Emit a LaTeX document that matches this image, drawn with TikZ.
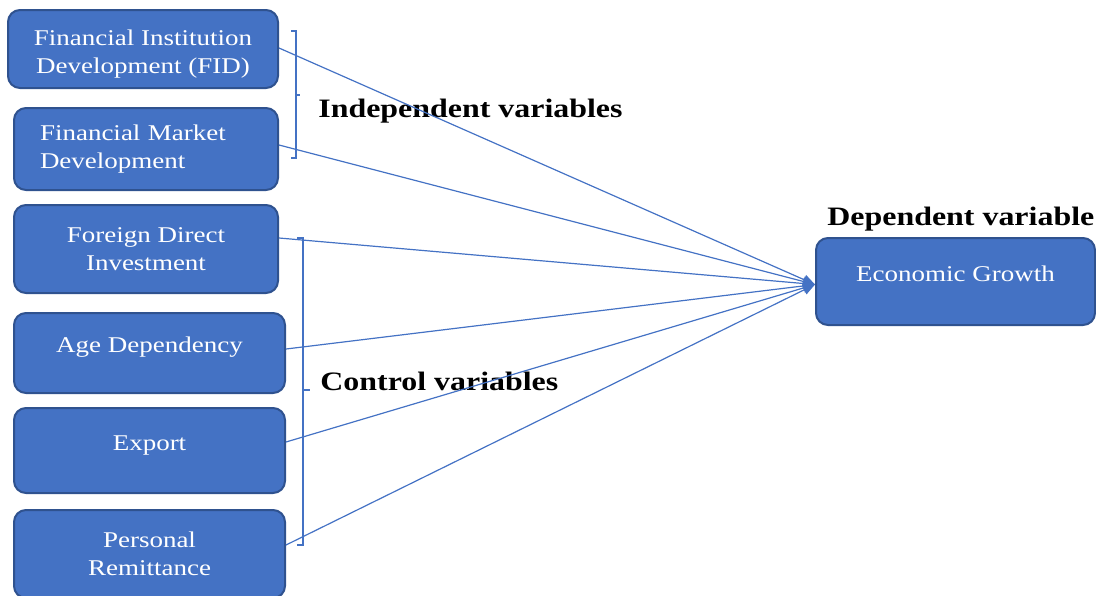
\documentclass[tikz,border=0pt]{standalone}
\usepackage{fontspec}
\setmainfont{Liberation Serif}[FakeStretch=1.2]
\usetikzlibrary{arrows.meta,calc}
\definecolor{boxblue}{HTML}{4472C4}
\definecolor{boxline}{HTML}{2F528F}

\begin{document}
\begin{tikzpicture}[x=0.5pt, y=-0.5pt]
  \tikzstyle{box} = [rectangle, draw=boxline, line width=1pt, fill=boxblue, rounded corners=6pt,
                                    text=white, align=center, inner sep=0pt,
                                    font=\fontsize{11.25}{14}\selectfont]
  \tikzstyle{raised} = [text height=8pt, text depth=8.5pt]
  \tikzstyle{group} = [anchor=base west, inner sep=0pt, font=\fontsize{13.3}{16}\selectfont\bfseries]
  \tikzstyle{link} = [draw=boxblue, line width=0.6pt, -{Triangle[length=6pt,width=5pt]}]
  \tikzstyle{brace} = [draw=boxblue, line width=0.6pt]
\useasboundingbox (0,0) rectangle (1096,595);
\node[box, minimum width=135pt, minimum height=39pt](fid) at (143,49){\rule{0pt}{13pt}Financial Institution\\Development (FID)};
\node[box, minimum width=132pt, minimum height=41pt, text width=106pt, align=left](fmd) at (146,149){Financial Market\\Development};
\node[box, minimum width=132pt, minimum height=44pt](fdi) at (146,249){Foreign Direct\\Investment};
\node[box, raised, minimum width=135.5pt, minimum height=40pt](age) at (149.5,353){Age Dependency};
\node[box, raised, minimum width=135.5pt, minimum height=42.5pt](exp) at (149.5,450.5){Export};
\node[box, minimum width=135.5pt, minimum height=44pt](rem) at (149.5,554){Personal\\Remittance};
\node[box, raised, minimum width=139.5pt, minimum height=43.5pt](growth) at (955.5,281.5){Economic Growth};
\node[group](indep) at (318,117){Independent variables};
\node[group](ctrl) at (320,390){Control variables};
\node[group](dep) at (827,225){Dependent variable};
\draw[brace] (291,31) -- (296,31) -- (296,158) -- (291,158) (296,95) -- (300,95);
\draw[brace] (297,238) -- (303,238) -- (303,545) -- (297,545) (303,390) -- (310,390);
\draw[link] ($(fid.east)+(0,-1)$) -- ($(growth.west)+(0,3)$);
\draw[link] ($(fmd.east)+(0,-4)$) -- ($(growth.west)+(0,3)$);
\draw[link] ($(fdi.east)+(0,-11)$) -- ($(growth.west)+(0,3)$);
\draw[link] ($(age.east)+(0,-4)$) -- ($(growth.west)+(0,3)$);
\draw[link] ($(exp.east)+(0,-8.5)$) -- ($(growth.west)+(0,3)$);
\draw[link] ($(rem.east)+(0,-9)$) -- ($(growth.west)+(0,3)$);
\end{tikzpicture}
\end{document}
